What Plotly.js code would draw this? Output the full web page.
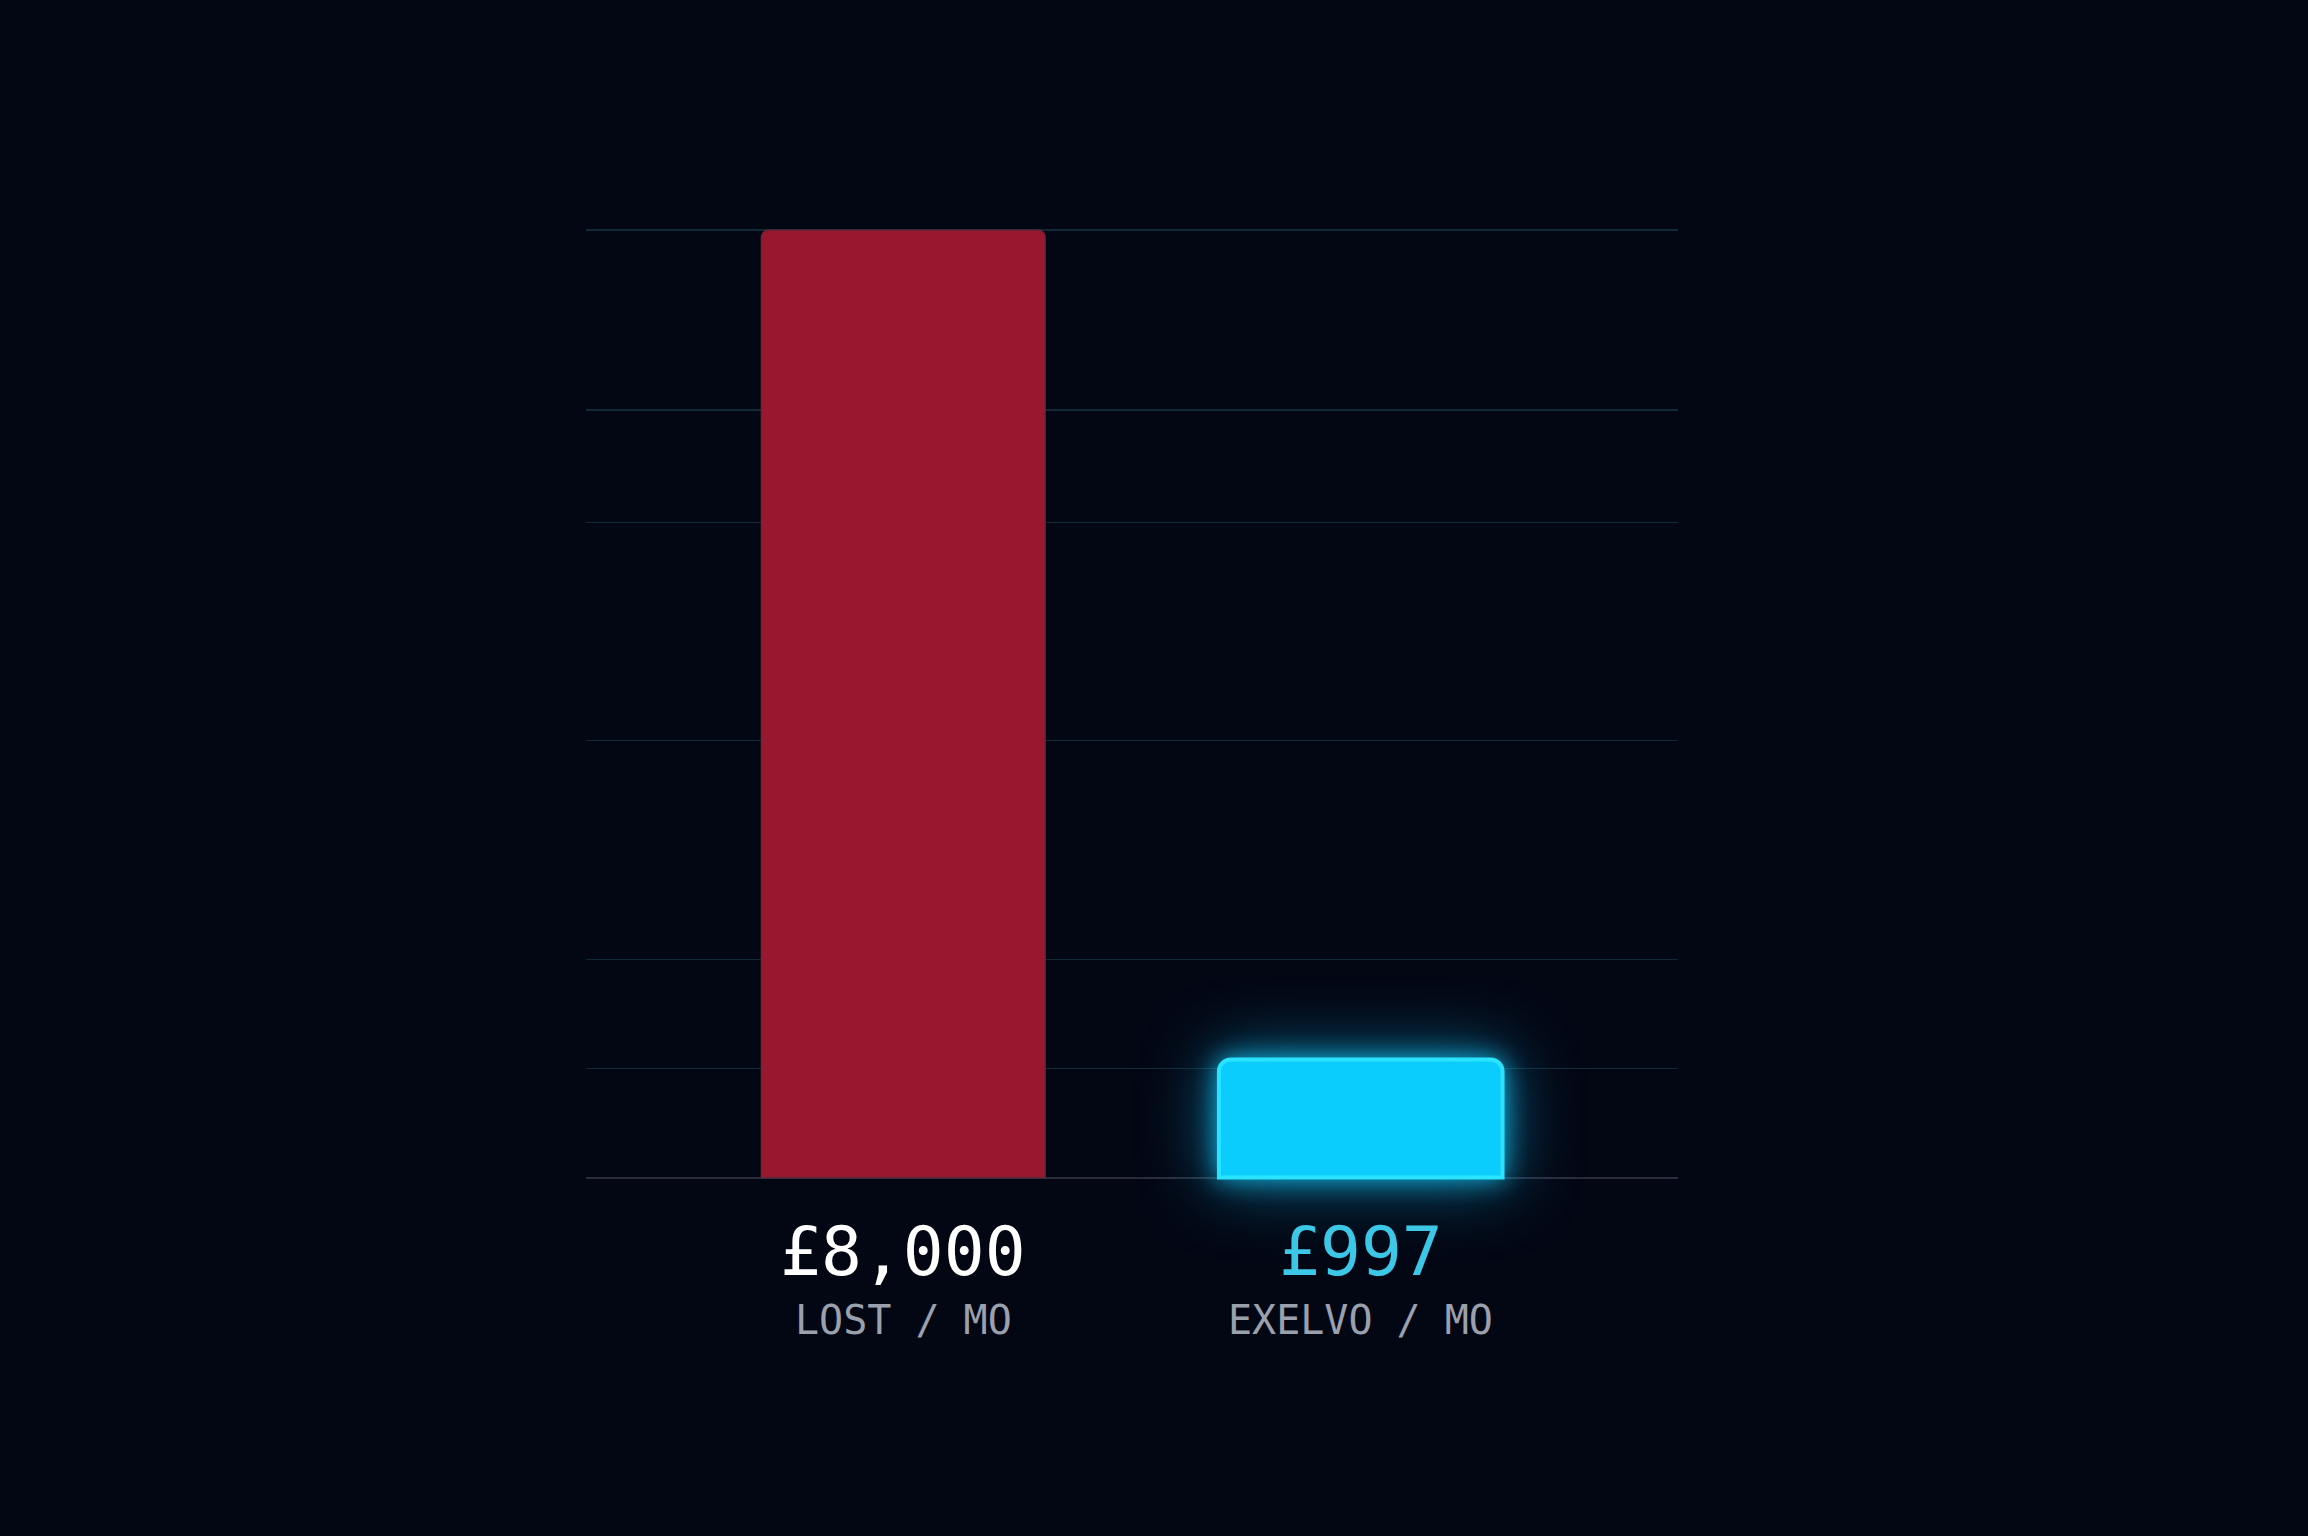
<!DOCTYPE html>
<html>
<head>
<meta charset="utf-8">
<script src="https://cdn.plot.ly/plotly-3.0.1.min.js"></script>
<style>
  html, body { margin:0; padding:0; background:#030714; }
  #chart { width:2308px; height:1536px; }
</style>
</head>
<body>
<div id="chart"></div>
<script>
// ---- data ----
const categories = ["LOST / MO", "EXELVO / MO"];
const values = [8000, 997];
const valueLabels = ["£8,000", "£997"];
const gridValues = [920, 1840, 3690, 5530, 6480, 8000];

const barColors = ["#99182f", "#0bcdfd"];
const barLines = ["#6e2436", "#2ae3ff"];
const valueColors = ["#ffffff", "#3cc7e6"];

const traces = categories.map((c, i) => ({
  type: "bar",
  x: [c],
  y: [values[i]],
  width: 0.62,
  marker: {
    color: barColors[i],
    line: { color: barLines[i], width: i === 1 ? 4 : 1.5 },
    cornerradius: i === 1 ? 12 : 7
  },
  hoverinfo: "skip",
  showlegend: false
}));

const annotations = [];
categories.forEach((c, i) => {
  annotations.push({
    x: c, y: 0, xref: "x", yref: "y",
    text: valueLabels[i], showarrow: false,
    xanchor: "center", yanchor: "middle", yshift: -74,
    font: { family: "DejaVu Sans Mono, monospace", size: 68, color: valueColors[i] }
  });
  annotations.push({
    x: c, y: 0, xref: "x", yref: "y",
    text: c, showarrow: false,
    xanchor: "center", yanchor: "middle", yshift: -142,
    font: { family: "DejaVu Sans Mono, monospace", size: 40, color: "#9ba0ad" }
  });
});

const layout = {
  width: 2308, height: 1536,
  paper_bgcolor: "#030714",
  plot_bgcolor: "#030714",
  margin: { l: 586, r: 630, t: 229, b: 240, pad: 0 },
  barmode: "overlay",
  xaxis: {
    type: "category",
    range: [-0.6935, 1.6935],
    showgrid: false, zeroline: false, showline: false,
    showticklabels: false, ticks: ""
  },
  yaxis: {
    range: [-1000, 8010],
    tickmode: "array",
    tickvals: gridValues,
    showticklabels: false, ticks: "",
    showgrid: true, gridcolor: "#0f2a36", gridwidth: 1.5,
    zeroline: true, zerolinecolor: "#2a2c3c", zerolinewidth: 2,
    showline: false
  },
  annotations: annotations
};

Plotly.newPlot("chart", traces, layout, { staticPlot: true, displayModeBar: false }).then(() => {
  const groups = document.querySelectorAll("#chart .barlayer .trace");
  if (groups.length > 1) {
    groups[1].querySelectorAll("path").forEach(p => {
      p.style.filter = "drop-shadow(0 0 12px rgba(20,210,255,0.75)) drop-shadow(0 0 32px rgba(15,150,200,0.7))";
    });
  }
});
</script>
</body>
</html>
